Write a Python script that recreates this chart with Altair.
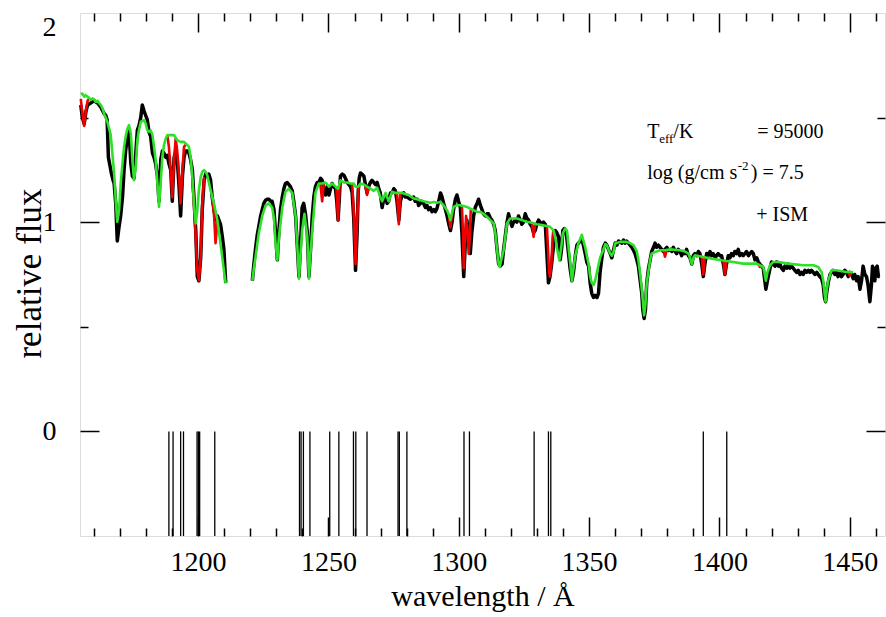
import altair as alt
import pandas as pd

FONT = "Liberation Serif"

# ---------------- data ----------------
BLACK_A = [(1155.0,1.56),(1155.6,1.50),(1156.3,1.47),(1157.0,1.53),(1157.6,1.56),(1158.8,1.57),(1160.1,1.58),
 (1161.4,1.57),(1162.7,1.55),(1163.9,1.52),(1164.6,1.51),(1165.1,1.49),(1165.6,1.31),(1166.2,1.27),(1166.8,1.23),
 (1167.4,1.20),(1167.8,1.185),(1168.4,1.09),(1169.0,0.91),(1169.7,0.98),(1170.3,1.03),(1171.0,1.12),(1171.6,1.25),
 (1172.2,1.34),(1172.9,1.41),(1173.5,1.44),(1174.2,1.28),(1174.8,1.22),(1175.4,1.21),(1176.1,1.33),(1176.7,1.44),
 (1177.3,1.46),(1178.0,1.50),(1178.6,1.56),(1179.3,1.53),(1179.9,1.51),(1180.5,1.49),(1181.2,1.43),(1181.8,1.41),
 (1182.5,1.33),(1183.1,1.31),(1183.7,1.28),(1184.4,1.22),(1185.0,1.10),(1185.7,1.30),(1186.3,1.34),(1186.9,1.33),
 (1187.6,1.31),(1188.2,1.32),(1188.8,1.28),(1189.5,1.25),(1190.1,1.10),(1190.8,1.31),(1191.4,1.34),(1192.0,1.30),
 (1192.7,1.17),(1193.3,1.03),(1194.0,1.22),(1194.6,1.31),(1195.2,1.34),(1195.9,1.34),(1196.5,1.33),(1197.1,1.30),
 (1197.8,1.25),(1198.4,1.12),(1199.1,0.96),(1199.7,0.74),(1200.3,0.72),(1201.0,0.83),(1201.6,1.06),(1202.3,1.20),
 (1202.9,1.23),(1203.5,1.22),(1204.1,1.23),(1204.8,1.20),(1205.4,1.12),(1206.1,1.06),(1206.7,1.01),(1207.4,1.03),
 (1208.0,1.01),(1208.6,0.99),(1209.3,0.93),(1209.9,0.87),(1210.6,0.71)]

BLACK_B = [(1220.8,0.72),(1221.4,0.80),(1222.1,0.88),(1222.7,0.94),(1223.3,0.98),(1224.0,1.03),(1224.6,1.06),
 (1225.2,1.09),(1225.9,1.105),(1226.5,1.11),(1227.2,1.11),(1227.8,1.10),(1228.4,1.10),(1229.1,1.06),(1229.7,0.95),
 (1230.4,0.82),(1231.0,0.96),(1231.6,1.06),(1232.3,1.12),(1232.9,1.16),(1233.5,1.185),(1234.2,1.19),(1234.8,1.18),
 (1235.4,1.17),(1236.1,1.15),(1236.7,1.10),(1237.4,1.03),(1238.0,0.90),(1238.7,0.74),(1239.3,0.90),(1239.9,1.07),
 (1240.5,1.09),(1241.2,1.04),(1241.9,0.95),(1242.5,0.74),(1243.1,0.86),(1243.8,1.03),(1244.4,1.12),(1245.0,1.17),
 (1245.7,1.19),(1246.3,1.19),(1247.0,1.21),(1247.6,1.20),(1248.2,1.16),(1248.9,1.13),(1249.5,1.17),(1250.2,1.13),
 (1250.8,1.16),(1251.4,1.185),(1252.1,1.17),(1252.7,1.16),(1253.2,1.10),(1253.7,1.01),(1254.2,1.12),(1254.6,1.22),
 (1255.3,1.23),(1255.9,1.225),(1256.5,1.21),(1257.2,1.19),(1257.8,1.18),(1258.5,1.17),(1259.1,1.14),(1259.7,1.02),
 (1260.4,0.77),(1261.0,0.95),(1261.4,1.14),(1261.8,1.21),(1262.3,1.235),(1262.9,1.23),(1263.6,1.22),(1264.2,1.18),
 (1264.8,1.14),(1265.4,1.17),(1266.1,1.19),(1266.7,1.20),(1267.4,1.19),(1268.0,1.18),(1268.7,1.19),(1269.3,1.16),
 (1269.9,1.14),(1270.6,1.07),(1271.2,1.11),(1271.9,1.12),(1272.5,1.09),(1273.1,1.10),(1273.8,1.14),(1274.4,1.14),
 (1275.1,1.16),(1275.7,1.15),(1276.3,1.10),(1277.0,1.01),(1277.6,1.10),(1278.3,1.13),(1278.9,1.14),(1279.5,1.12),
 (1280.2,1.12),(1281.4,1.11),(1282.7,1.12),(1283.3,1.10),(1284.0,1.11),(1284.6,1.08),(1285.3,1.09),(1285.9,1.10),
 (1286.5,1.09),(1287.2,1.07),(1287.8,1.08),(1288.4,1.06),(1289.1,1.07),(1289.7,1.05),(1290.4,1.06),(1291.0,1.05),
 (1291.6,1.065),(1292.3,1.10),(1293.0,1.14),(1293.6,1.12),(1294.2,1.09),(1294.9,1.06),(1295.5,1.03),(1296.2,0.99),
 (1296.8,0.96),(1297.4,1.00),(1298.0,1.06),(1298.7,1.11),(1299.3,1.13),(1299.9,1.10),(1300.6,1.07),(1301.2,0.95),
 (1301.9,0.74),(1302.5,0.90),(1303.1,1.01),(1303.8,0.93),(1304.4,0.85),(1305.0,0.95),(1305.7,1.03),(1306.3,1.07),
 (1307.0,1.09),(1307.6,1.11),(1308.3,1.08),(1308.9,1.06),(1309.5,1.04),(1310.2,1.03),(1310.8,1.04),(1311.4,1.04),
 (1312.1,1.02),(1312.7,1.01),(1313.4,0.99),(1314.0,0.96),(1314.6,0.88),(1315.3,0.80),(1315.9,0.79),(1316.6,0.80),
 (1317.2,0.87),(1317.8,0.93),(1318.5,1.00),(1319.1,1.04),(1319.7,1.01),(1320.4,0.98),(1321.0,1.00),(1321.7,1.01),
 (1322.3,1.00),(1322.9,1.03),(1323.6,1.01),(1324.2,0.99),(1324.8,1.00),(1325.5,1.04),(1326.1,1.02),(1326.8,1.01),
 (1327.4,0.99),(1328.0,0.98),(1328.7,0.95),(1329.3,0.96),(1329.9,0.99),(1330.6,1.01),(1331.2,1.00),(1331.9,0.99),
 (1332.5,1.00),(1333.2,0.99),(1333.8,0.85),(1334.4,0.71),(1335.0,0.74),(1335.6,0.80),(1336.3,0.88),(1337.0,0.96),
 (1337.6,0.95),(1338.3,0.93),(1338.9,0.82),(1339.5,0.88),(1339.9,0.96),(1340.5,0.97),(1341.2,0.95),(1342.1,0.85),
 (1342.7,0.78),(1343.4,0.72),(1344.0,0.76),(1344.7,0.84),(1345.3,0.89),(1345.9,0.90),(1346.6,0.91),(1347.2,0.92),
 (1347.8,0.89),(1348.5,0.85),(1349.1,0.81),(1349.8,0.79),(1350.4,0.71),(1351.0,0.66),(1351.7,0.64),(1352.3,0.65),
 (1353.0,0.64),(1353.6,0.66),(1354.2,0.76),(1354.9,0.83),(1355.5,0.88),(1356.2,0.90),(1356.8,0.89),(1357.4,0.87),
 (1358.1,0.85),(1358.7,0.83),(1359.4,0.87),(1360.0,0.90),(1360.6,0.89),(1361.3,0.91),(1361.9,0.905),(1362.6,0.90),
 (1363.2,0.915),(1363.8,0.90),(1364.4,0.91),(1365.1,0.90),(1365.7,0.89),(1366.4,0.88),(1367.0,0.866),(1367.6,0.85),
 (1368.3,0.82),(1368.9,0.79),(1369.5,0.73),(1370.2,0.66),(1370.6,0.58),(1371.1,0.54),(1371.6,0.58),(1372.1,0.71),
 (1372.8,0.78),(1373.4,0.82),(1374.0,0.86),(1374.7,0.88),(1375.3,0.90),(1375.9,0.88),(1376.6,0.89),(1377.2,0.88),
 (1377.8,0.87),(1378.5,0.86),(1379.1,0.87),(1379.8,0.88),(1380.4,0.865),(1381.1,0.87),(1381.7,0.86),(1382.3,0.88),
 (1383.0,0.86),(1383.6,0.85),(1384.2,0.87),(1384.9,0.86),(1385.5,0.84),(1386.2,0.86),(1386.8,0.85),(1387.4,0.87),
 (1388.1,0.84),(1388.7,0.83),(1389.4,0.80),(1390.0,0.84),(1390.6,0.85),(1391.3,0.84),(1391.9,0.86),(1392.5,0.85),
 (1393.2,0.80),(1393.8,0.74),(1394.4,0.80),(1395.1,0.85),(1395.7,0.84),(1396.4,0.86),(1397.0,0.84),(1397.6,0.85),
 (1398.3,0.83),(1398.9,0.84),(1399.5,0.85),(1400.2,0.84),(1400.8,0.84),(1401.5,0.80),(1402.1,0.75),(1402.7,0.80),
 (1403.4,0.84),(1404.0,0.83),(1404.6,0.85),(1405.3,0.84),(1405.9,0.86),(1406.6,0.85),(1407.2,0.87),(1407.8,0.84),
 (1408.5,0.85),(1409.1,0.84),(1409.7,0.85),(1410.4,0.86),(1411.1,0.84),(1411.7,0.85),(1412.4,0.86),(1413.0,0.85),
 (1413.6,0.82),(1414.3,0.83),(1414.9,0.81),(1415.5,0.80),(1416.2,0.79),(1416.8,0.78),(1417.4,0.72),(1417.8,0.68),
 (1418.4,0.72),(1419.4,0.78),(1420.0,0.81),(1420.6,0.80),(1421.3,0.79),(1421.9,0.81),(1422.6,0.79),(1423.2,0.80),
 (1423.8,0.78),(1424.5,0.77),(1425.1,0.79),(1425.8,0.78),(1426.4,0.80),(1427.0,0.78),(1427.7,0.79),(1428.3,0.78),
 (1428.9,0.77),(1429.6,0.76),(1430.2,0.77),(1430.9,0.75),(1431.5,0.76),(1432.1,0.75),(1432.8,0.77),(1433.4,0.76),
 (1434.1,0.77),(1434.7,0.76),(1435.3,0.77),(1436.0,0.76),(1436.6,0.75),(1437.3,0.76),(1437.9,0.75),(1438.5,0.74),
 (1439.2,0.73),(1439.8,0.70),(1440.3,0.64),(1440.7,0.62),(1441.1,0.66),(1441.7,0.71),(1442.4,0.75),(1443.0,0.76),
 (1443.6,0.77),(1444.3,0.75),(1444.9,0.76),(1445.5,0.74),(1446.2,0.76),(1446.8,0.74),(1447.4,0.75),(1448.1,0.77),
 (1448.7,0.76),(1449.4,0.74),(1450.0,0.76),(1450.7,0.75),(1451.3,0.73),(1451.9,0.75),(1452.6,0.72),(1453.2,0.74),
 (1453.9,0.68),(1454.5,0.72),(1455.1,0.79),(1455.8,0.75),(1456.4,0.74),(1457.0,0.70),(1457.7,0.62),(1458.3,0.70),
 (1458.7,0.79),(1459.3,0.76),(1459.6,0.72),(1460.0,0.78),(1460.5,0.79),(1461.0,0.74),(1461.5,0.74)]

GREEN_A = [(1155.0,1.612),(1155.6,1.615),(1156.3,1.60),(1156.9,1.607),(1157.6,1.60),(1158.2,1.595),(1158.8,1.584),
 (1159.5,1.592),(1160.1,1.587),(1160.7,1.576),(1161.4,1.58),(1162.0,1.57),(1162.7,1.56),(1163.3,1.544),(1163.9,1.52),
 (1165.2,1.48),(1166.5,1.416),(1167.1,1.33),(1167.8,1.233),(1168.4,1.105),(1169.0,1.002),(1169.7,1.057),(1170.3,1.185),
 (1171.0,1.281),(1171.6,1.36),(1172.2,1.408),(1172.9,1.448),(1173.5,1.464),(1174.2,1.424),(1174.8,1.297),(1175.4,1.201),
 (1176.1,1.265),(1176.7,1.392),(1177.3,1.44),(1178.0,1.48),(1179.3,1.488),(1179.9,1.472),(1180.5,1.44),(1181.2,1.432),
 (1181.8,1.44),(1182.5,1.416),(1183.1,1.36),(1183.7,1.30),(1184.4,1.185),(1185.0,1.073),(1185.7,1.201),(1186.3,1.313),
 (1186.9,1.368),(1187.6,1.40),(1188.2,1.416),(1189.5,1.416),(1190.8,1.416),(1192.0,1.392),(1193.3,1.384),(1194.6,1.384),
 (1195.9,1.368),(1196.5,1.36),(1197.1,1.313),(1197.8,1.217),(1198.4,1.089),(1199.1,0.994),(1199.7,1.057),(1200.3,1.153),
 (1201.0,1.217),(1201.6,1.241),(1202.3,1.249),(1202.9,1.241),(1203.5,1.225),(1204.8,1.153),(1206.1,1.089),(1207.4,1.010),
 (1208.6,0.898),(1209.9,0.770),(1210.6,0.707)]

GREEN_B = [(1220.8,0.72),(1221.4,0.78),(1222.1,0.84),(1223.3,0.95),(1224.6,1.03),(1225.9,1.08),(1227.2,1.09),
 (1228.4,1.07),(1229.1,1.02),(1229.7,0.90),(1230.4,0.82),(1231.0,0.93),(1232.3,1.07),(1233.5,1.145),(1234.8,1.16),
 (1236.1,1.14),(1237.4,1.03),(1238.0,0.90),(1238.7,0.73),(1239.3,0.85),(1239.9,0.96),(1240.8,1.04),(1241.9,0.93),
 (1242.5,0.73),(1243.1,0.85),(1243.8,0.96),(1245.0,1.14),(1246.3,1.185),(1247.6,1.185),(1248.9,1.19),(1250.2,1.17),
 (1251.4,1.185),(1252.7,1.17),(1253.7,1.16),(1254.6,1.20),(1255.9,1.19),(1257.2,1.19),(1258.5,1.185),(1259.7,1.185),
 (1260.4,1.17),(1261.4,1.17),(1262.3,1.185),(1263.6,1.18),(1264.8,1.17),(1266.1,1.16),(1267.4,1.15),(1268.7,1.165),
 (1269.9,1.12),(1270.6,1.10),(1271.9,1.14),(1273.1,1.10),(1274.4,1.145),(1275.7,1.14),(1277.0,1.14),(1278.3,1.14),
 (1279.5,1.135),(1280.8,1.13),(1282.7,1.113),(1284.0,1.11),(1285.3,1.105),(1286.5,1.10),(1287.8,1.097),(1289.1,1.093),
 (1290.4,1.097),(1291.6,1.093),(1292.9,1.097),(1294.2,1.08),(1295.5,1.057),(1296.2,1.035),(1296.8,1.01),(1297.4,1.04),
 (1298.0,1.073),(1299.3,1.081),(1300.6,1.081),(1301.9,1.077),(1303.1,1.073),(1304.4,1.065),(1305.7,1.057),(1307.0,1.05),
 (1308.3,1.049),(1309.5,1.04),(1310.8,1.026),(1312.1,1.01),(1313.4,0.994),(1314.0,0.95),(1314.6,0.88),(1315.3,0.80),
 (1315.7,0.786),(1316.3,0.82),(1317.2,0.866),(1318.5,0.994),(1319.7,1.018),(1321.0,1.018),(1322.3,1.018),(1324.2,1.01),
 (1326.1,1.002),(1328.0,0.998),(1329.9,0.99),(1331.9,0.986),(1333.8,0.982),(1335.0,0.978),(1336.3,0.962),(1337.0,0.93),
 (1337.6,0.88),(1338.6,0.818),(1339.3,0.88),(1339.9,0.946),(1340.8,0.97),(1341.5,0.96),(1342.1,0.88),(1342.8,0.80),
 (1343.4,0.72),(1344.0,0.78),(1344.7,0.84),(1345.9,0.90),(1347.2,0.94),(1348.5,0.88),(1349.8,0.80),(1350.4,0.74),
 (1351.0,0.71),(1351.7,0.70),(1352.3,0.72),(1353.0,0.76),(1354.2,0.83),(1355.5,0.87),(1356.2,0.895),(1356.8,0.89),
 (1357.4,0.87),(1358.1,0.85),(1358.7,0.84),(1359.4,0.86),(1360.0,0.898),(1361.9,0.906),(1364.4,0.906),(1365.7,0.90),
 (1367.0,0.89),(1368.3,0.86),(1368.9,0.82),(1369.5,0.76),(1370.2,0.68),(1371.1,0.555),(1371.6,0.61),(1372.1,0.71),
 (1373.4,0.82),(1374.0,0.85),(1375.3,0.858),(1377.2,0.866),(1379.1,0.866),(1381.1,0.87),(1384.9,0.866),(1386.8,0.86),
 (1388.1,0.85),(1388.7,0.83),(1389.4,0.80),(1390.0,0.83),(1390.6,0.842),(1393.8,0.834),(1397.0,0.826),(1400.8,0.818),
 (1405.3,0.81),(1409.1,0.802),(1414.3,0.802),(1416.8,0.786),(1417.4,0.75),(1417.8,0.72),(1418.4,0.76),(1419.4,0.794),
 (1420.6,0.81),(1422.6,0.81),(1426.4,0.802),(1432.1,0.794),(1436.0,0.794),(1437.9,0.786),(1439.2,0.76),(1439.8,0.72),
 (1440.7,0.62),(1441.2,0.68),(1441.7,0.72),(1443.0,0.77),(1444.9,0.77),(1448.7,0.762),(1451.3,0.762)]

RED_SEGMENTS = [
 [(1155.0,1.59),(1155.6,1.52),(1156.3,1.46),(1156.9,1.53),(1157.6,1.58),(1158.2,1.59)],
 [(1188.2,1.416),(1188.8,1.36),(1189.5,1.25),(1190.1,1.12),(1190.8,1.30),(1191.4,1.40),(1192.0,1.34),(1192.7,1.22),
  (1193.3,1.09),(1194.0,1.25),(1194.6,1.36),(1195.2,1.37)],
 [(1197.8,1.20),(1198.4,1.09),(1199.1,0.93),(1199.7,0.77),(1200.3,0.722),(1201.0,0.834),(1201.6,1.089),(1202.3,1.217)],
 [(1205.4,1.12),(1206.1,1.04),(1206.7,0.90),(1207.2,0.97),(1207.4,1.01)],
 [(1246.9,1.185),(1247.6,1.10),(1248.2,1.185)],
 [(1253.0,1.17),(1253.7,1.01),(1254.3,1.18)],
 [(1259.1,1.185),(1259.7,1.05),(1260.4,0.80),(1261.0,1.00),(1261.6,1.17)],
 [(1264.2,1.175),(1264.8,1.13),(1265.4,1.165)],
 [(1276.3,1.14),(1277.0,0.99),(1277.6,1.14)],
 [(1296.2,1.03),(1296.8,0.975),(1297.4,1.04)],
 [(1301.2,1.077),(1301.6,0.95),(1301.9,0.78),(1302.3,0.90),(1302.8,1.03),(1303.4,0.95),(1303.8,0.85),(1304.2,0.92),
  (1304.6,1.06)],
 [(1328.0,1.00),(1328.7,0.93),(1329.3,0.99)],
 [(1333.8,0.98),(1334.2,0.88),(1334.6,0.76),(1335.0,0.74),(1335.5,0.80),(1336.0,0.93),(1336.3,0.962)],
 [(1378.5,0.866),(1379.1,0.835),(1379.8,0.866)],
 [(1393.2,0.834),(1393.8,0.75),(1394.4,0.834)],
 [(1401.5,0.818),(1402.1,0.75),(1402.7,0.818)],
 [(1414.9,0.80),(1415.5,0.786),(1416.2,0.79)],
 [(1449.4,0.762),(1450.0,0.745),(1450.7,0.762)],
]

ISM_LINES = [1188.8, 1190.4, 1193.3, 1194.4, 1199.6, 1200.1, 1200.6, 1206.4, 1238.9, 1239.5, 1240.4,
             1242.9, 1250.5, 1254.0, 1259.6, 1260.5, 1264.8, 1276.7, 1277.2, 1280.1, 1302.0, 1304.1,
             1328.9, 1334.4, 1335.3, 1393.8, 1402.8]
ISM_TOP = 0.0
ISM_BOTTOM = -0.5

X_LABELS = [1200, 1250, 1300, 1350, 1400, 1450]
Y_LABELS = [0, 1, 2]
X_TICKS = list(range(1160, 1461, 10))
Y_TICKS = [0, 0.5, 1, 1.5]
X_DOMAIN = [1154.7, 1463.5]
Y_DOMAIN = [-0.5, 2.0]

ANNOT_TEXT = ["T", "eff", "/K", "= 95000", "log (g/cm s", "-2", ") = 7.5", "+ ISM"]
ANNOT_X = [1372.3, 1376.9, 1382.3, 1414.5, 1372.3, 1407.0, 1412.0, 1414.1]
ANNOT_Y = [1.402, 1.378, 1.402, 1.402, 1.206, 1.249, 1.206, 1.005]
ANNOT_SIZE = [20, 13, 20, 20, 20, 13, 20, 20]

# ---------------- frames ----------------
def seg_frame(segments):
    rows = []
    for i, seg in enumerate(segments):
        for wl, fx in seg:
            rows.append({"wl": wl, "flux": fx, "seg": i})
    return pd.DataFrame(rows)

black_df = seg_frame([BLACK_A, BLACK_B])
green_df = seg_frame([GREEN_A, GREEN_B])
red_df = seg_frame(RED_SEGMENTS)
ism_df = pd.DataFrame({"wl": ISM_LINES, "top": ISM_TOP, "bot": ISM_BOTTOM})
ann_df = pd.DataFrame({"x": ANNOT_X, "y": ANNOT_Y, "text": ANNOT_TEXT, "size": ANNOT_SIZE})

W, H = 805, 523
xs = alt.Scale(domain=X_DOMAIN, nice=False, zero=False)
ys = alt.Scale(domain=Y_DOMAIN, nice=False, zero=False)


def tick_axis(orient, offset, values, test):
    return alt.Axis(orient=orient, offset=offset, values=values, labels=False, domain=False,
                    grid=False, title=None, ticks=True, tickColor="black", tickWidth=1.5,
                    tickSize={"condition": {"test": test, "value": 19}, "value": 8})


x_label_axis = alt.Axis(orient="bottom", values=X_LABELS, format="d", ticks=False, tickSize=0,
                        domain=False, grid=False, labelFont=FONT, labelFontSize=28,
                        labelColor="black", labelPadding=12, labelFlush=False, labelOverlap=False,
                        title="wavelength / Å", titleFont=FONT, titleFontSize=30,
                        titleFontWeight="normal", titleColor="black", titleX=W / 2, titleY=69,
                        titleBaseline="alphabetic", titleAlign="center")

y_label_axis = alt.Axis(orient="left", values=Y_LABELS, format="d", ticks=False, tickSize=0,
                        domain=False, grid=False, labelFont=FONT, labelFontSize=28,
                        labelColor="black", labelPadding=24, labelFlush=True, labelOverlap=False,
                        title="relative flux", titleFont=FONT, titleFontSize=35,
                        titleFontWeight="normal", titleColor="black", titleX=-40, titleY=260,
                        titleBaseline="alphabetic", titleAlign="center")

ism = alt.Chart(ism_df).mark_rule(color="black", strokeWidth=1.3).encode(
    x=alt.X("wl:Q", scale=xs, axis=x_label_axis),
    y=alt.Y("top:Q", scale=ys, axis=y_label_axis),
    y2="bot:Q",
)

black = alt.Chart(black_df).mark_line(color="black", strokeWidth=3.5, strokeJoin="round").encode(
    x=alt.X("wl:Q", scale=xs, axis=tick_axis("top", -H, X_TICKS, "datum.value % 50 === 0")),
    y=alt.Y("flux:Q", scale=ys, axis=tick_axis("right", -W, Y_TICKS, "datum.value % 1 === 0")),
    detail="seg:N",
)

red = alt.Chart(red_df).mark_line(color="#ee0000", strokeWidth=2.6, strokeJoin="round").encode(
    x=alt.X("wl:Q", scale=xs, axis=tick_axis("bottom", -H, X_TICKS, "datum.value % 50 === 0")),
    y=alt.Y("flux:Q", scale=ys, axis=tick_axis("left", -W, Y_TICKS, "datum.value % 1 === 0")),
    detail="seg:N",
)

green = alt.Chart(green_df).mark_line(color="#2ee02a", strokeWidth=2.6, strokeJoin="round").encode(
    x=alt.X("wl:Q", scale=xs, axis=None),
    y=alt.Y("flux:Q", scale=ys, axis=None),
    detail="seg:N",
)

text = alt.Chart(ann_df).mark_text(align="left", baseline="alphabetic", font=FONT, color="black").encode(
    x=alt.X("x:Q", scale=xs, axis=None),
    y=alt.Y("y:Q", scale=ys, axis=None),
    text="text:N",
    size=alt.Size("size:Q", scale=None, legend=None),
)

chart = (
    alt.layer(ism, black, red, green, text)
    .resolve_axis(x="independent", y="independent")
    .properties(width=W, height=H, autosize=alt.AutoSizeParams(type="none"),
                padding={"left": 80, "top": 13, "right": 1, "bottom": 81})
    .configure_view(stroke="black", strokeWidth=2)
    .configure(background="white")
)

chart.save("out.html", embed_options={"renderer": "svg", "actions": False})
